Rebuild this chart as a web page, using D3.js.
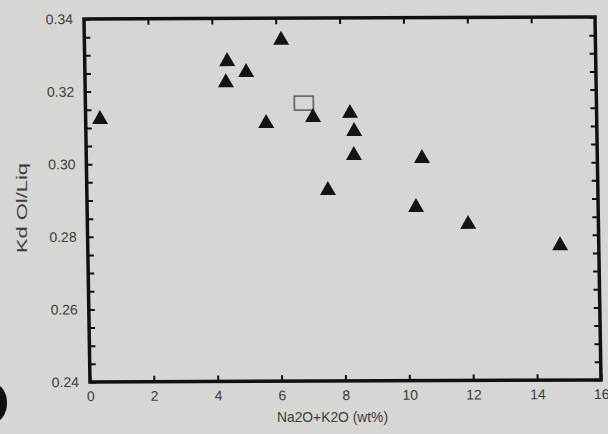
<!DOCTYPE html>
<html>
<head>
<meta charset="utf-8">
<script src="https://cdn.jsdelivr.net/npm/d3@7"></script>
<style>
  body { margin: 0; background: #d6d6d3; }
  svg { display: block; }
</style>
</head>
<body>
<div id="chart"></div>
<script>
// Na2O+K2O (wt%) and Kd Ol/Liq for the filled triangles
const alkalis = [0.45, 4.46, 4.41, 5.05, 6.16, 5.65, 7.12, 8.28, 8.40, 8.38, 7.55, 10.51, 10.30, 11.92, 14.79];
const kdValues = [0.3130, 0.3288, 0.3230, 0.3258, 0.3346, 0.3117, 0.3133, 0.3144, 0.3094, 0.3028, 0.2932, 0.3019, 0.2884, 0.2837, 0.2777];
// the single open square
const squareX = [6.84];
const squareY = [0.3166];

const xTicks = [0, 2, 4, 6, 8, 10, 12, 14, 16];
const yTicks = [0.24, 0.26, 0.28, 0.30, 0.32, 0.34];

const config = {
  width: 608, height: 434,
  plotWidth: 511, plotHeight: 363,
  // the page was photographed slightly askew: plot frame is a little sheared
  frame: {left: 84, top: 19, dyPerX: -2 / 511, dxPerY: 6 / 363},
  font: '"Liberation Sans", Arial, sans-serif',
  ink: '#111',
  textColor: '#3c3c3c'
};
const innerW = config.plotWidth;
const innerH = config.plotHeight;

const svg = d3.select('#chart').append('svg')
    .attr('width', config.width)
    .attr('height', config.height)
    .style('font-family', config.font);

svg.append('rect')
    .attr('width', config.width)
    .attr('height', config.height)
    .attr('fill', '#d6d6d3');

// dark smudge at the lower left of the photo
svg.append('ellipse')
    .attr('cx', -6).attr('cy', 403)
    .attr('rx', 13).attr('ry', 19)
    .attr('fill', '#111');

const f = config.frame;
const g = svg.append('g')
    .attr('transform', `matrix(1,${f.dyPerX},${f.dxPerY},1,${f.left},${f.top})`);

const x = d3.scaleLinear().domain([0, 16]).range([0, innerW]);
const y = d3.scaleLinear().domain([0.24, 0.34]).range([innerH, 0]);

const yMinor = d3.range(0.24, 0.3401, 0.005);

// bottom axis: labels plus inward ticks
const xAxis = g.append('g')
    .attr('transform', `translate(0,${innerH})`)
    .call(d3.axisBottom(x).tickValues(xTicks).tickFormat(d3.format('d'))
      .tickSizeInner(-6).tickSizeOuter(0).tickPadding(9));
// top: ticks only
const xTop = g.append('g')
    .call(d3.axisTop(x).tickValues(xTicks.slice(1, -1)).tickFormat('')
      .tickSizeInner(-6).tickSizeOuter(0));

// left minor ticks, then labels
const yLeft = g.append('g')
    .call(d3.axisLeft(y).tickValues(yMinor).tickFormat('').tickSizeInner(-6).tickSizeOuter(0));
const yLabels = g.append('g')
    .call(d3.axisLeft(y).tickValues(yTicks).tickFormat(d3.format('.2f')).tickSize(0).tickPadding(11));
const yRight = g.append('g')
    .attr('transform', `translate(${innerW},0)`)
    .call(d3.axisRight(y).tickValues(yMinor).tickFormat('').tickSizeInner(-6).tickSizeOuter(0));

[xAxis, xTop, yLeft, yLabels, yRight].forEach(a => {
  a.attr('font-family', null).attr('font-size', null);
  a.select('.domain').remove();
  a.selectAll('.tick line').attr('stroke', config.ink).attr('stroke-width', 2);
  a.selectAll('.tick text')
    .attr('fill', config.textColor)
    .style('font-size', '14px')
    .style('font-family', config.font);
});
yLabels.selectAll('.tick line').remove();

// frame
g.append('rect')
    .attr('width', innerW)
    .attr('height', innerH)
    .attr('fill', 'none')
    .attr('stroke', config.ink)
    .attr('stroke-width', 3.5);

// open square (drawn under the triangles)
g.selectAll('.sq')
  .data(squareX.map((d, i) => ({x: d, y: squareY[i]})))
  .join('rect')
    .attr('class', 'sq')
    .attr('x', d => x(d.x) - 9.5)
    .attr('y', d => y(d.y) - 7)
    .attr('width', 19)
    .attr('height', 14)
    .attr('fill', 'none')
    .attr('stroke', '#6a6a6a')
    .attr('stroke-width', 1.8);

// filled triangles, centred on their bounding box
const triPath = 'M0,-7L8,7L-8,7Z';
g.selectAll('.tri')
  .data(alkalis.map((d, i) => ({x: d, y: kdValues[i]})))
  .join('path')
    .attr('class', 'tri')
    .attr('d', triPath)
    .attr('transform', d => `translate(${x(d.x)},${y(d.y)})`)
    .attr('fill', '#141414');

// axis titles
svg.append('text')
    .attr('x', 277).attr('y', 422)
    .attr('textLength', 111)
    .attr('lengthAdjust', 'spacingAndGlyphs')
    .attr('fill', config.textColor)
    .style('font-size', '15px')
    .text('Na2O+K2O (wt%)');

svg.append('text')
    .attr('transform', 'translate(26.5,253) rotate(-90)')
    .attr('textLength', 90)
    .attr('lengthAdjust', 'spacingAndGlyphs')
    .attr('fill', config.textColor)
    .style('font-size', '15px')
    .text('Kd Ol/Liq');
</script>
</body>
</html>
